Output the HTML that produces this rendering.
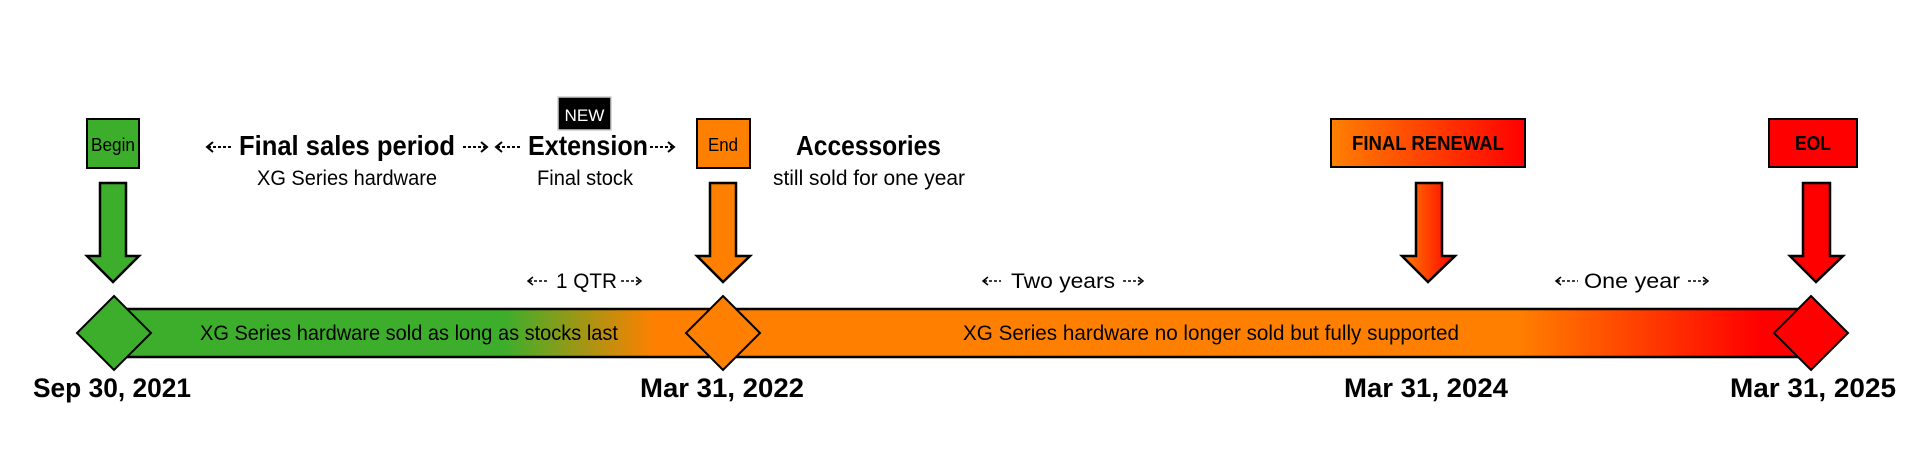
<!DOCTYPE html>
<html><head><meta charset="utf-8"><style>
html,body{margin:0;padding:0;background:#fff;width:1920px;height:452px;overflow:hidden}
text{font-family:"Liberation Sans",sans-serif;fill:#000}
.b{font-weight:bold}
</style></head><body>
<svg width="1920" height="452" viewBox="0 0 1920 452" xmlns="http://www.w3.org/2000/svg">
<defs>
<linearGradient id="bar" gradientUnits="userSpaceOnUse" x1="125" y1="0" x2="1802" y2="0">
<stop offset="0" stop-color="#3DAE2B"/>
<stop offset="0.226" stop-color="#3DAE2B"/>
<stop offset="0.316" stop-color="#FF8000"/>
<stop offset="0.83" stop-color="#FF8000"/>
<stop offset="0.975" stop-color="#FF0000"/>
<stop offset="1" stop-color="#FF0000"/>
</linearGradient>
<linearGradient id="or" x1="0" y1="0" x2="1" y2="0">
<stop offset="0" stop-color="#FF8000"/><stop offset="1" stop-color="#FF0000"/>
</linearGradient>
</defs>

<rect x="120" y="309" width="1685" height="48" fill="url(#bar)" stroke="#000" stroke-width="2.5"/>

<polygon points="114,296 151,333 114,370 77,333" fill="#3DAE2B" stroke="#000" stroke-width="2"/>
<polygon points="723,296 760,333 723,370 686,333" fill="#FF8000" stroke="#000" stroke-width="2"/>
<polygon points="1811,296 1848,333 1811,370 1774,333" fill="#FF0000" stroke="#000" stroke-width="2"/>

<rect x="87" y="119" width="52" height="49" fill="#3DAE2B" stroke="#000" stroke-width="2"/>
<text x="113" y="151" font-size="18" text-anchor="middle" textLength="44" lengthAdjust="spacingAndGlyphs">Begin</text>
<rect x="697" y="119" width="53" height="49" fill="#FF8000" stroke="#000" stroke-width="2"/>
<text x="723" y="151" font-size="18" text-anchor="middle" textLength="30" lengthAdjust="spacingAndGlyphs">End</text>
<rect x="1331" y="119" width="194" height="48" fill="url(#or)" stroke="#000" stroke-width="2"/>
<text x="1352" y="150" font-size="20" class="b" textLength="152" lengthAdjust="spacingAndGlyphs">FINAL RENEWAL</text>
<rect x="1769" y="119" width="88" height="48" fill="#FF0000" stroke="#000" stroke-width="2"/>
<text x="1795" y="150" font-size="20" class="b" textLength="36" lengthAdjust="spacingAndGlyphs">EOL</text>
<rect x="558" y="97" width="53" height="33" fill="#000" stroke="#ccc" stroke-width="1.5"/>
<text x="584.5" y="121" font-size="17" text-anchor="middle" style="fill:#fff" textLength="40" lengthAdjust="spacingAndGlyphs">NEW</text>

<polygon points="100,183 126,183 126,256 139,256 113,282 87,256 100,256" fill="#3DAE2B" stroke="#000" stroke-width="2.5"/>
<polygon points="710,183 736,183 736,256 750,256 723,282 697,256 710,256" fill="#FF8000" stroke="#000" stroke-width="2.5"/>
<polygon points="1416,183 1442,183 1442,256 1455,256 1428,282 1402,256 1416,256" fill="url(#or)" stroke="#000" stroke-width="2.5"/>
<polygon points="1803,183 1830,183 1830,256 1843,256 1816,282 1790,256 1803,256" fill="#FF0000" stroke="#000" stroke-width="2.5"/>

<g stroke="#000" stroke-width="2" fill="none">
<line x1="208" y1="147" x2="231" y2="147" stroke-dasharray="3,2"/><polyline points="213,142 207,147 213,152"/>
<line x1="463" y1="147" x2="485" y2="147" stroke-dasharray="3,2"/><polyline points="481,142 487,147 481,152"/>
<line x1="497" y1="147" x2="520" y2="147" stroke-dasharray="3,2"/><polyline points="502,142 496,147 502,152"/>
<line x1="650" y1="147" x2="672" y2="147" stroke-dasharray="3,2"/><polyline points="668,142 674,147 668,152"/>
<line x1="529" y1="281" x2="549" y2="281" stroke-dasharray="3,2" stroke-width="1.5"/><polyline points="533,277 528,281 533,285" stroke-width="1.5"/>
<line x1="621" y1="281" x2="640" y2="281" stroke-dasharray="3,2" stroke-width="1.5"/><polyline points="636,277 641,281 636,285" stroke-width="1.5"/>
<line x1="984" y1="281" x2="1001" y2="281" stroke-dasharray="3,2" stroke-width="1.5"/><polyline points="988,277 983,281 988,285" stroke-width="1.5"/>
<line x1="1123" y1="281" x2="1142" y2="281" stroke-dasharray="3,2" stroke-width="1.5"/><polyline points="1138,277 1143,281 1138,285" stroke-width="1.5"/>
<line x1="1557" y1="281" x2="1578" y2="281" stroke-dasharray="3,2" stroke-width="1.5"/><polyline points="1561,277 1556,281 1561,285" stroke-width="1.5"/>
<line x1="1688" y1="281" x2="1707" y2="281" stroke-dasharray="3,2" stroke-width="1.5"/><polyline points="1703,277 1708,281 1703,285" stroke-width="1.5"/>
</g>

<text x="239" y="155" font-size="28" class="b" textLength="216" lengthAdjust="spacingAndGlyphs">Final sales period</text>
<text x="257" y="185" font-size="21" textLength="180" lengthAdjust="spacingAndGlyphs">XG Series hardware</text>
<text x="528" y="155" font-size="28" class="b" textLength="120" lengthAdjust="spacingAndGlyphs">Extension</text>
<text x="537" y="185" font-size="21" textLength="96" lengthAdjust="spacingAndGlyphs">Final stock</text>
<text x="796" y="155" font-size="28" class="b" textLength="145" lengthAdjust="spacingAndGlyphs">Accessories</text>
<text x="773" y="185" font-size="21" textLength="192" lengthAdjust="spacingAndGlyphs">still sold for one year</text>

<text x="556" y="288" font-size="21" textLength="61" lengthAdjust="spacingAndGlyphs">1 QTR</text>
<text x="1011" y="288" font-size="21" textLength="104" lengthAdjust="spacingAndGlyphs">Two years</text>
<text x="1584" y="288" font-size="21" textLength="96" lengthAdjust="spacingAndGlyphs">One year</text>

<text x="200" y="340" font-size="21" textLength="418" lengthAdjust="spacingAndGlyphs">XG Series hardware sold as long as stocks last</text>
<text x="963" y="340" font-size="21" textLength="496" lengthAdjust="spacingAndGlyphs">XG Series hardware no longer sold but fully supported</text>

<text x="33" y="397" font-size="27" class="b" textLength="158" lengthAdjust="spacingAndGlyphs">Sep 30, 2021</text>
<text x="640" y="397" font-size="27" class="b" textLength="164" lengthAdjust="spacingAndGlyphs">Mar 31, 2022</text>
<text x="1344" y="397" font-size="27" class="b" textLength="164" lengthAdjust="spacingAndGlyphs">Mar 31, 2024</text>
<text x="1730" y="397" font-size="27" class="b" textLength="166" lengthAdjust="spacingAndGlyphs">Mar 31, 2025</text>
</svg>
</body></html>
